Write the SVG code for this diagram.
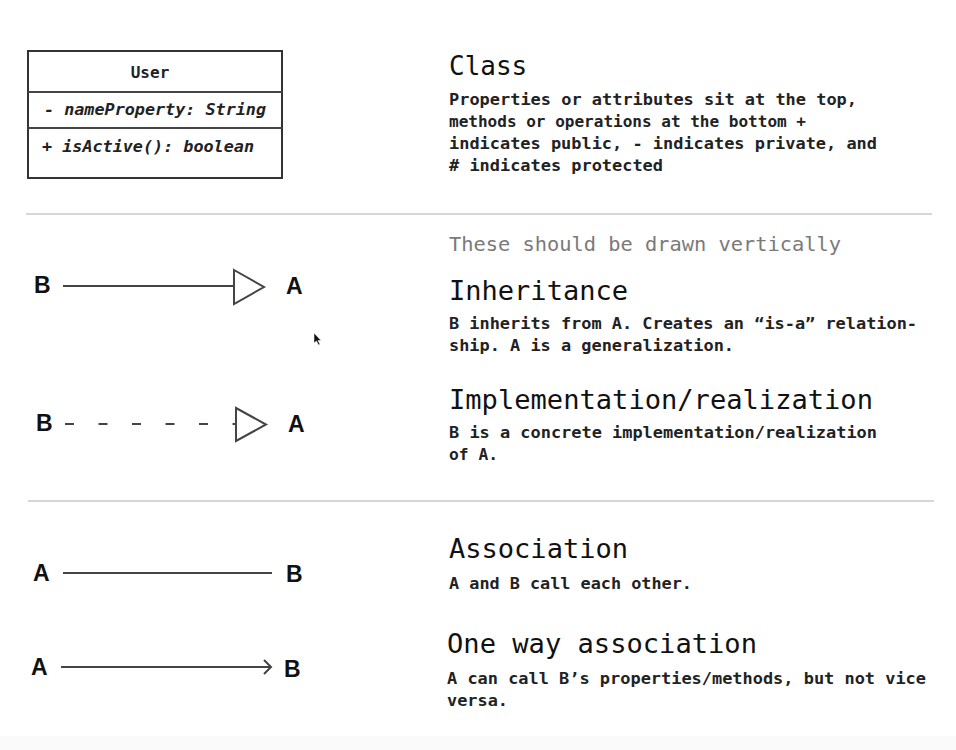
<svg xmlns="http://www.w3.org/2000/svg" width="956" height="750" viewBox="0 0 956 750">
<style>
.mono{font-family:"DejaVu Sans Mono","Liberation Mono",monospace;}
.h{font-family:"DejaVu Sans Mono","Liberation Mono",monospace;font-size:26px;fill:#111;}
.b{font-family:"DejaVu Sans Mono","Liberation Mono",monospace;font-size:16px;font-weight:bold;fill:#222;}
.lbl{font-family:"Liberation Sans",Arial,sans-serif;font-size:23px;font-weight:bold;fill:#111;}
.ln{stroke:#444;stroke-width:2;fill:none;}
.box{stroke:#333;stroke-width:2;fill:#fff;}
</style>
<rect x="0" y="0" width="956" height="750" fill="#fff"/>
<rect x="0" y="736" width="956" height="14" fill="#fafafa"/>
<g id="dividers">
<line x1="26" y1="214" x2="932" y2="214" stroke="#d6d6d6" stroke-width="2"/>
<line x1="28" y1="501" x2="934" y2="501" stroke="#d6d6d6" stroke-width="2"/>
</g>
<g id="class-user">
<rect class="box" x="28" y="51" width="254" height="127"/>
<line class="ln" x1="28" y1="92" x2="282" y2="92" stroke="#333"/>
<line class="ln" x1="28" y1="128" x2="282" y2="128" stroke="#333"/>
<text class="b" x="150" y="78" text-anchor="middle">User</text>
<text class="b" x="44" y="115" font-style="italic" textLength="222" lengthAdjust="spacingAndGlyphs">- nameProperty: String</text>
<text class="b" x="42" y="152" font-style="italic" textLength="212" lengthAdjust="spacingAndGlyphs">+ isActive(): boolean</text>
</g>
<g id="text-class">
<text class="h" x="449" y="75">Class</text>
<text class="b" x="449" y="105" textLength="408" lengthAdjust="spacingAndGlyphs">Properties or attributes sit at the top,</text>
<text class="b" x="449" y="127" textLength="357" lengthAdjust="spacingAndGlyphs">methods or operations at the bottom +</text>
<text class="b" x="449" y="149" textLength="428" lengthAdjust="spacingAndGlyphs">indicates public, - indicates private, and</text>
<text class="b" x="449" y="171" textLength="214" lengthAdjust="spacingAndGlyphs"># indicates protected</text>
</g>
<text class="mono" x="449" y="251" font-size="19" fill="#7a7a7a" textLength="392" lengthAdjust="spacingAndGlyphs">These should be drawn vertically</text>
<g id="text-inheritance">
<text class="h" x="449" y="300" textLength="179" lengthAdjust="spacingAndGlyphs">Inheritance</text>
<text class="b" x="449" y="329" textLength="468" lengthAdjust="spacingAndGlyphs">B inherits from A. Creates an “is-a” relation-</text>
<text class="b" x="449" y="351" textLength="285" lengthAdjust="spacingAndGlyphs">ship. A is a generalization.</text>
</g>
<g id="text-implementation">
<text class="h" x="449" y="409" textLength="424" lengthAdjust="spacingAndGlyphs">Implementation/realization</text>
<text class="b" x="449" y="438" textLength="428" lengthAdjust="spacingAndGlyphs">B is a concrete implementation/realization</text>
<text class="b" x="449" y="460" textLength="49" lengthAdjust="spacingAndGlyphs">of A.</text>
</g>
<g id="text-association">
<text class="h" x="449" y="558" textLength="179" lengthAdjust="spacingAndGlyphs">Association</text>
<text class="b" x="449" y="589" textLength="243" lengthAdjust="spacingAndGlyphs">A and B call each other.</text>
</g>
<g id="text-oneway">
<text class="h" x="447" y="653" textLength="310" lengthAdjust="spacingAndGlyphs">One way association</text>
<text class="b" x="447" y="684" textLength="479" lengthAdjust="spacingAndGlyphs">A can call B’s properties/methods, but not vice</text>
<text class="b" x="447" y="706" textLength="61" lengthAdjust="spacingAndGlyphs">versa.</text>
</g>
<g id="node-inh-B"><text class="lbl" x="34" y="293">B</text></g>
<g id="node-inh-A"><text class="lbl" x="286" y="294">A</text></g>
<g id="node-impl-B"><text class="lbl" x="36" y="431">B</text></g>
<g id="node-impl-A"><text class="lbl" x="288" y="432">A</text></g>
<g id="node-assoc-A"><text class="lbl" x="33" y="581">A</text></g>
<g id="node-assoc-B"><text class="lbl" x="286" y="582">B</text></g>
<g id="node-one-A"><text class="lbl" x="31" y="675">A</text></g>
<g id="node-one-B"><text class="lbl" x="284" y="677">B</text></g>
<g id="connectors">
<line class="ln" x1="63" y1="286" x2="234" y2="286"/>
<polygon class="ln" points="234,270 264,287 234,304"/>
<line class="ln" x1="65" y1="424" x2="236" y2="424" stroke-dasharray="9 24.5"/>
<polygon class="ln" points="236,408 266,424.5 236,441"/>
<line class="ln" x1="63" y1="573" x2="272" y2="573"/>
<line class="ln" x1="61" y1="667" x2="270" y2="667"/>
<polyline class="ln" points="264,660 271,667 264,674"/>
</g>
<g id="cursor">
<polygon points="314,333 314,343 316.5,341 318.5,345 320,344.3 318,340.5 321,340.5" fill="#111" stroke="#fff" stroke-width="0.5"/>
</g>
</svg>
